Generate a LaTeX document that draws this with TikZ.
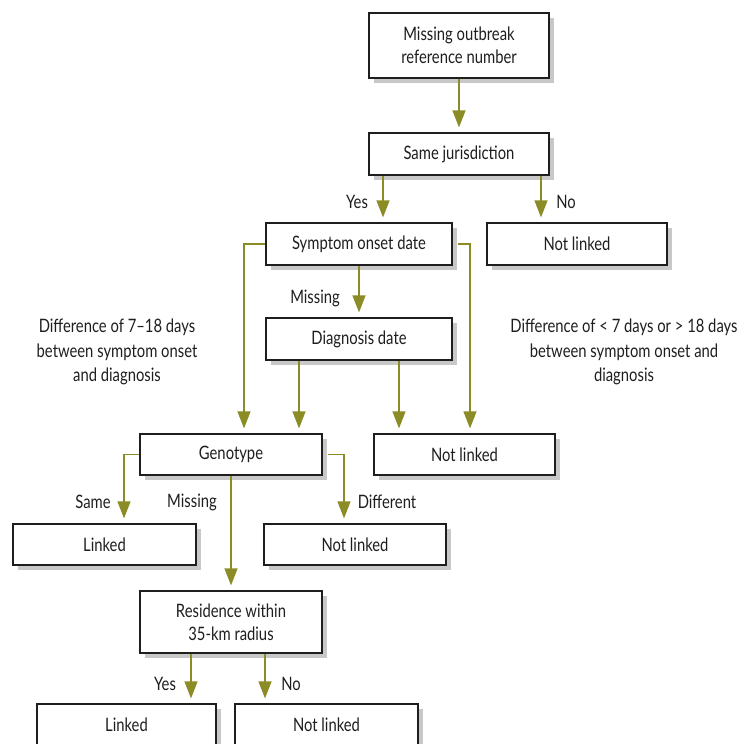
\documentclass[tikz,border=0pt]{standalone}
\usepackage{fontspec}
\setmainfont{Lato}[FakeStretch=0.8]
\usetikzlibrary{arrows.meta,shadows}
\definecolor{olive}{RGB}{140,140,38}
\definecolor{ink}{RGB}{30,30,30}
\definecolor{shade}{RGB}{200,200,200}
\tikzset{
  box/.style={draw=ink, line width=1.2pt, fill=white, align=center, inner sep=0pt,
    text=ink, font=\fontsize{18.5}{23}\selectfont,
    drop shadow={shadow xshift=5pt, shadow yshift=-5pt, fill=shade, opacity=1}},
  arr/.style={draw=olive, line width=1.2pt, shorten >=5pt,
    -{Triangle[length=17pt,width=13pt]}},
  lbl/.style={text=ink, font=\fontsize{18.5}{24.5}\selectfont, inner sep=0pt, align=center}
}
\begin{document}
\begin{tikzpicture}[x=1pt,y=-1pt]
\useasboundingbox (0,0) rectangle (742,744);
\node[box, minimum width=180pt, minimum height=65pt] (b1) at (459,45.5) {Missing outbreak\\reference number};
\node[box, minimum width=180pt, minimum height=42pt] (b2) at (459,154) {Same jurisdiction};
\node[box, minimum width=186pt, minimum height=42pt] (b3) at (359,244) {Symptom onset date};
\node[box, minimum width=180pt, minimum height=42pt] (b4) at (577,244) {Not linked};
\node[box, minimum width=186pt, minimum height=42pt] (b5) at (359,339) {Diagnosis date};
\node[box, minimum width=182pt, minimum height=41pt] (b6) at (231,454.5) {Genotype};
\node[box, minimum width=181pt, minimum height=41pt] (b7) at (464.5,454.5) {Not linked};
\node[box, minimum width=183pt, minimum height=41pt] (b8) at (104.5,544.5) {Linked};
\node[box, minimum width=182pt, minimum height=41pt] (b9) at (355,544.5) {Not linked};
\node[box, minimum width=182pt, minimum height=62pt] (b10) at (231,622) {Residence within\\35-km radius};
\node[box, minimum width=179pt, minimum height=42pt] (b11) at (126.5,725) {Linked};
\node[box, minimum width=183pt, minimum height=42pt] (b12) at (326.5,725) {Not linked};

\coordinate (x383) at (383,0);
\coordinate (x541) at (541,0);
\coordinate (x244) at (244,0);
\coordinate (x470) at (470,0);
\coordinate (x299) at (299,0);
\coordinate (x399) at (399,0);
\coordinate (x124) at (124,0);
\coordinate (x344) at (344,0);
\coordinate (x191) at (191,0);
\coordinate (x265) at (265,0);

\draw[arr] (b1) -- (b2);
\draw[arr] (b2.south -| x383) -- (b3.north -| x383);
\draw[arr] (b2.south -| x541) -- (b4.north -| x541);
\draw[arr] (b3.south) -- (b5.north);
\draw[arr] (b3.west) -| (x244 |- b6.north);
\draw[arr] ([xshift=5pt]b3.east) -| (x470 |- b7.north);
\draw[arr] (b5.south -| x299) -- (b6.north -| x299);
\draw[arr] (b5.south -| x399) -- (b7.north -| x399);
\draw[arr] (b6.west) -| (x124 |- b8.north);
\draw[arr] ([xshift=5pt]b6.east) -| (x344 |- b9.north);
\draw[arr] (b6.south) -- (b10.north);
\draw[arr] (b10.south -| x191) -- (b11.north -| x191);
\draw[arr] (b10.south -| x265) -- (b12.north -| x265);

\node[lbl] (l1) at (357,202) {Yes};
\node[lbl] (l2) at (566,202) {No};
\node[lbl] (l3) at (315,298) {Missing};
\node[lbl] (l4) at (93,502) {Same};
\node[lbl] (l5) at (192,502) {Missing};
\node[lbl] (l6) at (387,502) {Different};
\node[lbl] (l7) at (165,684) {Yes};
\node[lbl] (l8) at (291,684) {No};
\node[lbl] (l9) at (117,352) {Difference of 7--18 days\\between symptom onset\\and diagnosis};
\node[lbl] (l10) at (624,352) {Difference of < 7 days or > 18 days\\between symptom onset and\\diagnosis};
\end{tikzpicture}
\end{document}
